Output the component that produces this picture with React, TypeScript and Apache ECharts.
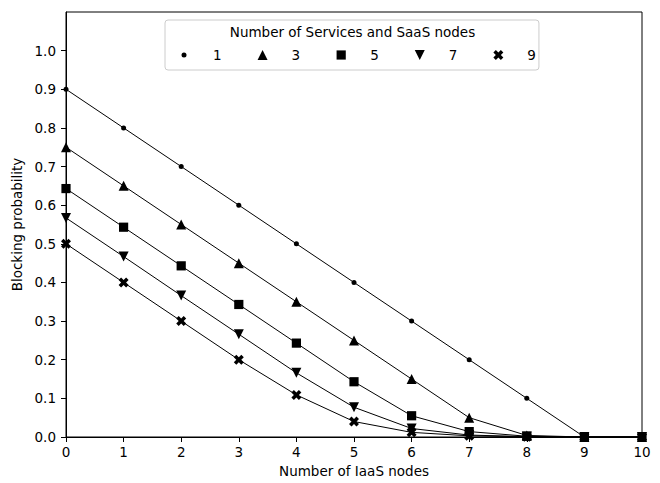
import React, { useEffect, useRef } from "react";
import * as echarts from "echarts";

const xNodes = [0, 1, 2, 3, 4, 5, 6, 7, 8, 9, 10];
const seriesNames = ["1", "3", "5", "7", "9"];
const s1 = [0.9, 0.8, 0.7, 0.6, 0.5, 0.4, 0.3, 0.2, 0.1, 0, 0];
const s3 = [0.75, 0.65, 0.55, 0.45, 0.35, 0.25, 0.15, 0.05, 0.004, 0, 0];
const s5 = [0.643, 0.543, 0.443, 0.343, 0.243, 0.143, 0.055, 0.014, 0.002, 0, 0];
const s7 = [0.567, 0.467, 0.366, 0.266, 0.166, 0.077, 0.022, 0.005, 0.001, 0, 0];
const s9 = [0.5, 0.4, 0.3, 0.2, 0.109, 0.04, 0.012, 0.003, 0.0005, 0, 0];
const seriesValues = [s1, s3, s5, s7, s9];
const yTicks = [0, 0.1, 0.2, 0.3, 0.4, 0.5, 0.6, 0.7, 0.8, 0.9, 1.0];
const xTicks = [0, 1, 2, 3, 4, 5, 6, 7, 8, 9, 10];
const legendTitle = "Number of Services and SaaS nodes";
const xTitle = "Number of IaaS nodes";
const yTitle = "Blocking probability";

const FONT = "DejaVu Sans";
const FS = 13.5;

const markers = [
  "path://M0,0M10,10M2.5,5A2.5,2.5,0,1,0,7.5,5A2.5,2.5,0,1,0,2.5,5Z",
  "path://M0,0M10,10M5,0L10,10L0,10Z",
  "path://M0,0M10,10M0.4,0.4L9.6,0.4L9.6,9.6L0.4,9.6Z",
  "path://M0,0M10,10M0,0L10,0L5,10Z",
  "path://M-1,-2L0,-1L1,-2L2,-1L1,0L2,1L1,2L0,1L-1,2L-2,1L-1,0L-2,-1Z",
];

export default function App() {
  const ref = useRef<HTMLDivElement>(null);
  useEffect(() => {
    const chart = echarts.init(ref.current!, null, { renderer: "svg" });
    chart.setOption({
      animation: false,
      backgroundColor: "#fff",
      textStyle: { fontFamily: FONT },
      grid: {
        left: 66,
        right: 18,
        top: 12,
        bottom: 45,
        show: true,
        borderColor: "#000",
        borderWidth: 1,
        backgroundColor: "transparent",
      },
      xAxis: {
        type: "value",
        min: 0,
        max: 10,
        interval: 1,
        name: xTitle,
        nameLocation: "middle",
        nameGap: 27,
        nameTextStyle: { fontFamily: FONT, fontSize: FS, color: "#000" },
        axisLine: { show: true, lineStyle: { color: "#000", width: 1 } },
        axisTick: { show: true, length: 5, inside: false, lineStyle: { color: "#000", width: 1 }, customValues: xTicks },
        axisLabel: {
          show: true,
          margin: 8,
          fontFamily: FONT,
          fontSize: FS,
          color: "#000",
          customValues: xTicks,
          formatter: (v: number) => String(v),
        },
        splitLine: { show: false },
      },
      yAxis: {
        type: "value",
        min: 0,
        max: 1.1,
        interval: 0.1,
        name: yTitle,
        nameLocation: "middle",
        nameRotate: 90,
        nameGap: 40,
        nameTextStyle: { fontFamily: FONT, fontSize: FS, color: "#000" },
        axisLine: { show: true, lineStyle: { color: "#000", width: 1 } },
        axisTick: { show: true, length: 5, inside: false, lineStyle: { color: "#000", width: 1 }, customValues: yTicks },
        axisLabel: {
          show: true,
          margin: 10,
          fontFamily: FONT,
          fontSize: FS,
          color: "#000",
          customValues: yTicks,
          formatter: (v: number) => v.toFixed(1),
        },
        splitLine: { show: false },
      },
      legend: {
        data: seriesNames.map((n, i) => ({ name: n, icon: markers[i] })),
        orient: "horizontal",
        left: 165,
        top: 20,
        padding: [28, 3, 8, 14],
        itemWidth: 10,
        itemHeight: 10,
        itemGap: 36,
        borderColor: "#cccccc",
        borderWidth: 1,
        borderRadius: 3,
        backgroundColor: "rgba(255,255,255,0.8)",
        selectedMode: false,
        textStyle: { fontFamily: FONT, fontSize: FS, color: "#000", padding: [0, 0, 0, 19] },
        itemStyle: { color: "#000", borderWidth: 0 },
        z: 5,
      },
      graphic: [
        {
          type: "text",
          x: 352.5,
          y: 32,
          z: 20,
          style: {
            text: legendTitle,
            align: "center",
            verticalAlign: "middle",
            fontFamily: FONT,
            fontSize: FS,
            fill: "#000",
          },
        },
      ],
      series: seriesNames.map((n, i) => ({
        name: n,
        type: "line",
        data: xNodes.map((x, j) => [x, seriesValues[i][j]]),
        symbol: markers[i],
        symbolSize: 10,
        showAllSymbol: true,
        symbolKeepAspect: true,
        lineStyle: { color: "#000", width: 1 },
        itemStyle: { color: "#000", borderWidth: 0 },
        emphasis: { disabled: true },
        z: i === 2 ? 4 : 3,
      })),
    });
    return () => chart.dispose();
  }, []);
  return (
    <div
      ref={ref}
      style={{ position: "fixed", left: 0, top: 0, width: 660, height: 483 }}
    />
  );
}
